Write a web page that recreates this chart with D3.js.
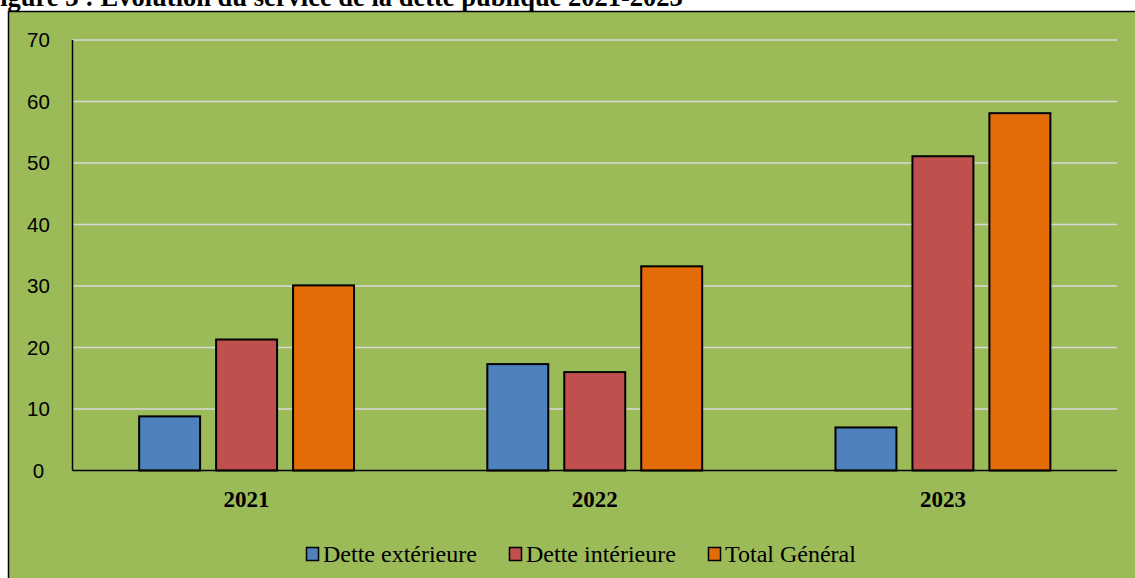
<!DOCTYPE html>
<html>
<head>
<meta charset="utf-8">
<script src="https://cdn.jsdelivr.net/npm/d3@7"></script>
<style>
  html, body { margin: 0; padding: 0; background: #ffffff; }
  svg { display: block; }
</style>
</head>
<body>
<svg id="chart" width="1135" height="578"></svg>
<script>
// Service de la dette publique, 2021-2023
const years = ["2021", "2022", "2023"];
const seriesNames = ["Dette extérieure", "Dette intérieure", "Total Général"];
const detteExterieure = [8.8, 17.3, 7.0];
const detteInterieure = [21.3, 16.0, 51.1];
const totalGeneral = [30.1, 33.2, 58.1];
const yTicks = [0, 10, 20, 30, 40, 50, 60, 70];
const seriesColors = ["#4F81BD", "#C0504D", "#E36C09"];

const seriesValues = [detteExterieure, detteInterieure, totalGeneral];
const rows = years.map((yr, i) => ({
  year: yr,
  values: seriesNames.map((s, k) => ({ key: s, value: seriesValues[k][i] }))
}));

const svg = d3.select("#chart");

// Title line (runs past the top-left corner of the page)
svg.append("text")
  .attr("x", -16)
  .attr("y", 6)
  .attr("font-family", "Liberation Serif, Times New Roman, serif")
  .attr("font-weight", "bold")
  .attr("font-size", 26.5)
  .attr("fill", "#000")
  .text("Figure 3 : Évolution du service de la dette publique 2021-2023");

// Chart area background with border
svg.append("rect")
  .attr("x", 8.5)
  .attr("y", 11.5)
  .attr("width", 1140)
  .attr("height", 580)
  .attr("fill", "#9BBB59")
  .attr("stroke", "#000")
  .attr("stroke-width", 1.5);

const plotLeft = 72.5, plotRight = 1117, plotTop = 40, plotBottom = 470.5;

const y = d3.scaleLinear().domain([0, 70]).range([plotBottom, plotTop]);
const x0 = d3.scaleBand().domain(years).range([plotLeft, plotRight]).padding(0);
const x1 = d3.scaleBand().domain(seriesNames).range([0, x0.bandwidth()])
  .paddingInner(0.208).paddingOuter(0.866);
const color = d3.scaleOrdinal().domain(seriesNames).range(seriesColors);

// Horizontal gridlines
svg.append("g")
  .selectAll("line")
  .data(yTicks.filter(t => t > 0))
  .join("line")
  .attr("x1", plotLeft)
  .attr("x2", plotRight)
  .attr("y1", d => y(d))
  .attr("y2", d => y(d))
  .attr("stroke", "#D9D9D9")
  .attr("stroke-width", 1.5);

// Y axis labels
const yAxis = d3.axisLeft(y).tickValues(yTicks).tickSize(0).tickPadding(0);
const yG = svg.append("g")
  .attr("transform", `translate(${plotLeft},0)`)
  .call(yAxis);
yG.select(".domain").remove();
yG.selectAll("text")
  .attr("x", -34)
  .attr("text-anchor", "middle")
  .attr("font-family", "Liberation Sans, Arial, sans-serif")
  .attr("font-size", 20.5)
  .attr("fill", "#000");

// Bars
const groups = svg.append("g")
  .selectAll("g")
  .data(rows)
  .join("g")
  .attr("transform", d => `translate(${x0(d.year)},0)`);

groups.selectAll("rect")
  .data(d => d.values)
  .join("rect")
  .attr("x", d => x1(d.key))
  .attr("y", d => y(d.value))
  .attr("width", x1.bandwidth())
  .attr("height", d => y(0) - y(d.value))
  .attr("fill", d => color(d.key))
  .attr("stroke", "#000")
  .attr("stroke-width", 2);

// Axis lines
svg.append("line")
  .attr("x1", plotLeft).attr("x2", plotLeft)
  .attr("y1", plotTop).attr("y2", plotBottom)
  .attr("stroke", "#000").attr("stroke-width", 1.5);
svg.append("line")
  .attr("x1", plotLeft).attr("x2", plotRight)
  .attr("y1", plotBottom).attr("y2", plotBottom)
  .attr("stroke", "#000").attr("stroke-width", 1.5);

// Category labels
const xAxis = d3.axisBottom(x0).tickSize(0).tickPadding(0);
const xG = svg.append("g")
  .attr("transform", `translate(0,${plotBottom})`)
  .call(xAxis);
xG.select(".domain").remove();
xG.selectAll("text")
  .attr("dy", 0)
  .attr("y", 36.5)
  .attr("font-family", "Liberation Serif, Times New Roman, serif")
  .attr("font-weight", "bold")
  .attr("font-size", 23)
  .attr("fill", "#000");

// Legend
const legendX = [306, 509, 708];
const legend = svg.append("g")
  .selectAll("g")
  .data(seriesNames)
  .join("g")
  .attr("transform", (d, i) => `translate(${legendX[i]},547)`);
legend.append("rect")
  .attr("x", 0.5).attr("y", 0.5)
  .attr("width", 12).attr("height", 13)
  .attr("fill", d => color(d))
  .attr("stroke", "#000")
  .attr("stroke-width", 1.5);
legend.append("text")
  .attr("x", 17)
  .attr("y", 15)
  .attr("font-family", "Liberation Serif, Times New Roman, serif")
  .attr("font-size", 24)
  .attr("fill", "#000")
  .text(d => d);
</script>
</body>
</html>
